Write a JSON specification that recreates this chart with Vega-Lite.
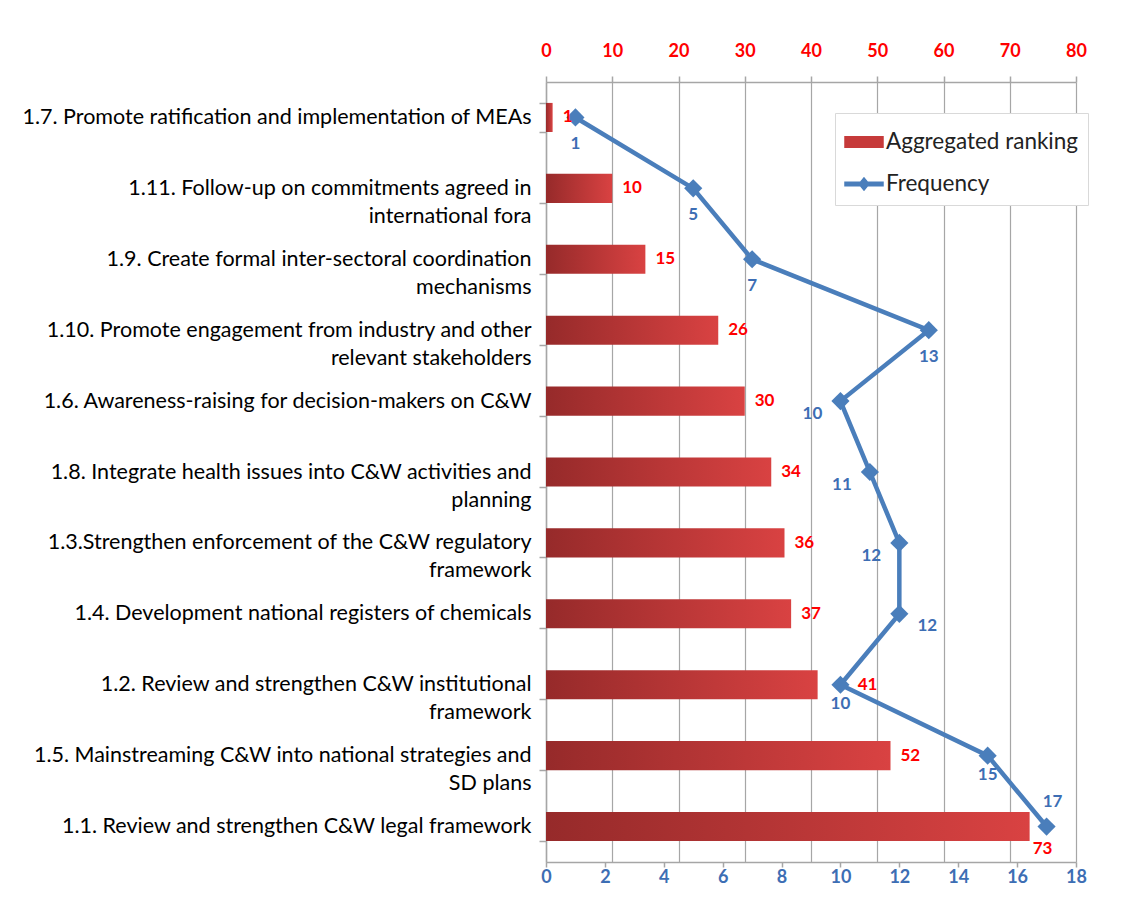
{
  "$schema": "https://vega.github.io/schema/vega-lite/v6.json",
  "width": 530,
  "height": 780,
  "autosize": {"type": "none"},
  "padding": {"left": 546, "top": 82, "right": 46, "bottom": 41},
  "background": "white",
  "config": {
    "font": "Lato",
    "view": {"stroke": null},
    "axis": {"domainColor": "#a6a6a6", "tickColor": "#a6a6a6", "gridColor": "#a6a6a6", "domainWidth": 1.5, "tickWidth": 1.5, "gridWidth": 1.2}
  },
  "data": {
    "values": [
      {"idx": 1, "item": "1.7. Promote ratification and implementation of MEAs", "rank": 1, "freq": 1},
      {"idx": 2, "item": "1.11. Follow-up on commitments agreed in|international fora", "rank": 10, "freq": 5},
      {"idx": 3, "item": "1.9. Create formal inter-sectoral coordination|mechanisms", "rank": 15, "freq": 7},
      {"idx": 4, "item": "1.10. Promote engagement from industry and other|relevant stakeholders", "rank": 26, "freq": 13},
      {"idx": 5, "item": "1.6. Awareness-raising for decision-makers on C&W", "rank": 30, "freq": 10},
      {"idx": 6, "item": "1.8. Integrate health issues into C&W activities and|planning", "rank": 34, "freq": 11},
      {"idx": 7, "item": "1.3.Strengthen enforcement of the C&W regulatory |framework ", "rank": 36, "freq": 12},
      {"idx": 8, "item": "1.4. Development national registers of chemicals ", "rank": 37, "freq": 12},
      {"idx": 9, "item": "1.2. Review and strengthen C&W institutional|framework", "rank": 41, "freq": 10},
      {"idx": 10, "item": "1.5. Mainstreaming C&W into national strategies and|SD plans", "rank": 52, "freq": 15},
      {"idx": 11, "item": "1.1. Review and strengthen C&W legal framework", "rank": 73, "freq": 17}
    ]
  },
  "encoding": {
    "y": {
      "field": "item",
      "type": "nominal",
      "sort": null,
      "scale": {"paddingInner": 0.59, "paddingOuter": 0.295},
      "axis": {
        "title": null,
        "labelExpr": "split(datum.label, '|')",
        "labelFont": "Lato",
        "labelFontSize": 21.5,
        "labelColor": "#000000",
        "labelLineHeight": 28,
        "labelLimit": 700,
        "labelPadding": 8,
        "tickBand": "extent",
        "tickSize": 7
      }
    }
  },
  "layer": [
    {
      "mark": {
        "type": "bar",
        "fill": {"gradient": "linear", "x1": 0, "y1": 0, "x2": 1, "y2": 0, "stops": [{"offset": 0, "color": "#962a2a"}, {"offset": 1, "color": "#d94242"}]}
      },
      "encoding": {
        "x": {
          "field": "rank",
          "type": "quantitative",
          "scale": {"domain": [0, 80]},
          "axis": {
            "orient": "top",
            "title": null,
            "values": [0, 10, 20, 30, 40, 50, 60, 70, 80],
            "grid": true,
            "tickSize": 6,
            "labelPadding": 16,
            "labelColor": "#ff0000",
            "labelFontWeight": "bold",
            "labelFontSize": 18,
            "labelFlush": false
          }
        },
        "color": {
          "datum": "Aggregated ranking",
          "scale": {"domain": ["Aggregated ranking", "Frequency"], "range": ["#c63a3a", "#4a7ebb"]},
          "legend": {
            "title": null,
            "orient": "none",
            "legendX": 289,
            "legendY": 31,
            "direction": "vertical",
            "padding": 9,
            "strokeColor": "#d9d9d9",
            "fillColor": "white",
            "labelFont": "Lato",
            "labelFontSize": 22.5,
            "labelColor": "#222222",
            "labelOffset": 2,
            "rowPadding": 10,
            "symbolSize": 1444,
            "labelLimit": 300,
            "encode": {
              "symbols": {
                "update": {
                  "shape": {"signal": "datum.value === 'Frequency' ? 'M-1,-0.09H1V0.09H-1Z M0,-0.32L0.26,0L0,0.32L-0.26,0Z' : 'M-1,-0.28H1V0.28H-1Z'"},
                  "fill": {"signal": "datum.value === 'Frequency' ? '#4a7ebb' : '#c63a3a'"},
                  "stroke": {"value": "transparent"},
                  "opacity": {"value": 1},
                  "fillOpacity": {"value": 1}
                }
              }
            }
          }
        }
      }
    },
    {
      "layer": [
        {
          "mark": {"type": "line", "strokeWidth": 4.5, "color": "#4a7ebb"},
          "encoding": {
            "x": {
              "field": "freq",
              "type": "quantitative",
              "scale": {"domain": [0, 18]},
              "axis": {
                "orient": "bottom",
                "title": null,
                "values": [0, 2, 4, 6, 8, 10, 12, 14, 16, 18],
                "grid": false,
                "tickSize": 5,
                "labelPadding": 1,
                "labelColor": "#3d6eb4",
                "labelFontWeight": "bold",
                "labelFontSize": 18,
                "labelFlush": false
              }
            },
            "order": {"field": "idx"},
            "color": {"datum": "Frequency"}
          }
        },
        {
          "mark": {"type": "point", "shape": "diamond", "filled": true, "size": 330, "opacity": 1, "color": "#4a7ebb"},
          "encoding": {
            "x": {"field": "freq", "type": "quantitative", "scale": {"domain": [0, 18]}},
            "color": {"datum": "Frequency"}
          }
        },
        {
          "transform": [{"filter": "datum.idx <= 4"}],
          "mark": {"type": "text", "align": "center", "baseline": "middle", "dy": 27, "fontWeight": "bold", "fontSize": 17, "color": "#3d6eb4"},
          "encoding": {
            "x": {"field": "freq", "type": "quantitative", "scale": {"domain": [0, 18]}},
            "text": {"field": "freq", "type": "quantitative"}
          }
        },
        {
          "transform": [{"filter": "datum.idx == 9 || datum.idx == 10"}],
          "mark": {"type": "text", "align": "center", "baseline": "middle", "dy": 19, "fontWeight": "bold", "fontSize": 17, "color": "#3d6eb4"},
          "encoding": {
            "x": {"field": "freq", "type": "quantitative", "scale": {"domain": [0, 18]}},
            "text": {"field": "freq", "type": "quantitative"}
          }
        },
        {
          "transform": [{"filter": "datum.idx >= 5 && datum.idx <= 7"}],
          "mark": {"type": "text", "align": "center", "baseline": "middle", "dx": -28, "dy": 13, "fontWeight": "bold", "fontSize": 17, "color": "#3d6eb4"},
          "encoding": {
            "x": {"field": "freq", "type": "quantitative", "scale": {"domain": [0, 18]}},
            "text": {"field": "freq", "type": "quantitative"}
          }
        },
        {
          "transform": [{"filter": "datum.idx == 8"}],
          "mark": {"type": "text", "align": "center", "baseline": "middle", "dx": 28, "dy": 12, "fontWeight": "bold", "fontSize": 17, "color": "#3d6eb4"},
          "encoding": {
            "x": {"field": "freq", "type": "quantitative", "scale": {"domain": [0, 18]}},
            "text": {"field": "freq", "type": "quantitative"}
          }
        },
        {
          "transform": [{"filter": "datum.idx == 11"}],
          "mark": {"type": "text", "align": "center", "baseline": "middle", "dy": -25, "dx": 6, "fontWeight": "bold", "fontSize": 17, "color": "#3d6eb4"},
          "encoding": {
            "x": {"field": "freq", "type": "quantitative", "scale": {"domain": [0, 18]}},
            "text": {"field": "freq", "type": "quantitative"}
          }
        }
      ]
    },
    {
      "transform": [{"filter": "datum.idx < 9 || datum.idx == 10"}],
      "mark": {"type": "text", "align": "left", "baseline": "middle", "dx": 10, "fontWeight": "bold", "fontSize": 17, "color": "#ff0000"},
      "encoding": {
        "x": {"field": "rank", "type": "quantitative", "scale": {"domain": [0, 80]}, "axis": null},
        "text": {"field": "rank", "type": "quantitative"}
      }
    },
    {
      "transform": [{"filter": "datum.idx == 9"}],
      "mark": {"type": "text", "align": "left", "baseline": "middle", "dx": 40, "fontWeight": "bold", "fontSize": 17, "color": "#ff0000"},
      "encoding": {
        "x": {"field": "rank", "type": "quantitative", "scale": {"domain": [0, 80]}, "axis": null},
        "text": {"field": "rank", "type": "quantitative"}
      }
    },
    {
      "transform": [{"filter": "datum.idx == 11"}],
      "mark": {"type": "text", "align": "left", "baseline": "middle", "dx": 3, "dy": 22, "fontWeight": "bold", "fontSize": 17, "color": "#ff0000"},
      "encoding": {
        "x": {"field": "rank", "type": "quantitative", "scale": {"domain": [0, 80]}, "axis": null},
        "text": {"field": "rank", "type": "quantitative"}
      }
    }
  ],
  "resolve": {"scale": {"x": "independent"}, "axis": {"x": "independent"}}
}
